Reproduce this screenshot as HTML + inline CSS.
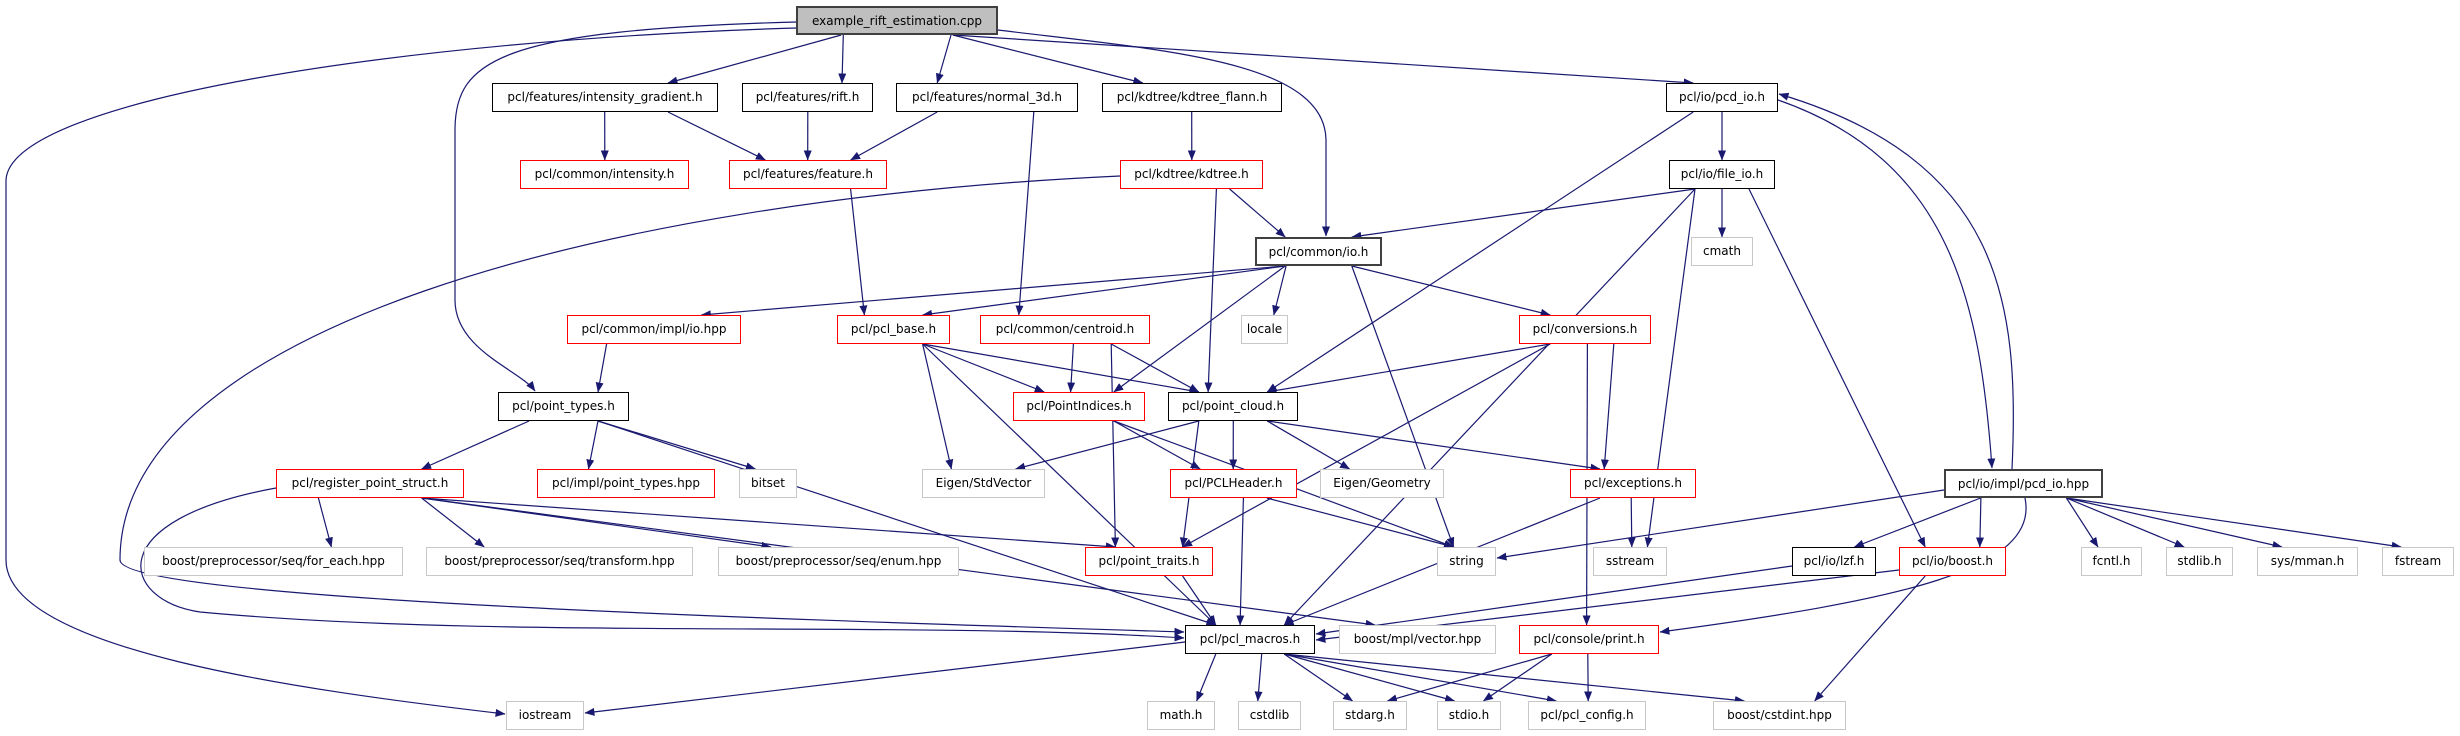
<!DOCTYPE html>
<html><head><meta charset="utf-8">
<style>
html,body{margin:0;padding:0;background:#fff;}
#c{position:relative;width:2460px;height:736px;overflow:hidden;background:#fff;}
.n{position:absolute;box-sizing:border-box;height:29px;line-height:27px;text-align:center;font-family:"DejaVu Sans","Liberation Sans",sans-serif;font-size:12px;color:#000;white-space:nowrap;background:#fff;z-index:2;}
.b{border:1.5px solid #000;}
.k{border:2px solid #404040;}
.r{border:1.5px solid #ff0000;}
.g{border:1.5px solid #c8c8c8;}
.m{border:2px solid #404040;background:#bfbfbf;}
svg{position:absolute;left:0;top:0;z-index:1;}
</style></head><body>
<div id="c">
<svg id="s" width="2460" height="736"><defs><marker id="a" markerWidth="10" markerHeight="8" refX="9.5" refY="4" orient="auto" markerUnits="userSpaceOnUse"><path d="M0,0 L10,4 L0,8 z" fill="#191970"/></marker></defs></svg>

<div class="n m" id="main" style="left:796px;top:6px;width:202px;">example_rift_estimation.cpp</div>

<div class="n b" id="ig" style="left:492px;top:83px;width:226px;">pcl/features/intensity_gradient.h</div>
<div class="n b" id="rift" style="left:742px;top:83px;width:131px;">pcl/features/rift.h</div>
<div class="n b" id="n3d" style="left:896px;top:83px;width:182px;">pcl/features/normal_3d.h</div>
<div class="n b" id="kdf" style="left:1102px;top:83px;width:180px;">pcl/kdtree/kdtree_flann.h</div>
<div class="n b" id="pcdh" style="left:1666px;top:83px;width:112px;">pcl/io/pcd_io.h</div>

<div class="n r" id="cint" style="left:520px;top:160px;width:169px;">pcl/common/intensity.h</div>
<div class="n r" id="feat" style="left:729px;top:160px;width:158px;">pcl/features/feature.h</div>
<div class="n r" id="kdt" style="left:1120px;top:160px;width:143px;">pcl/kdtree/kdtree.h</div>
<div class="n b" id="fio" style="left:1669px;top:160px;width:106px;">pcl/io/file_io.h</div>

<div class="n k" id="cio" style="left:1255px;top:237px;width:127px;">pcl/common/io.h</div>
<div class="n g" id="cmath" style="left:1691px;top:237px;width:62px;">cmath</div>

<div class="n r" id="iohpp" style="left:567px;top:315px;width:174px;">pcl/common/impl/io.hpp</div>
<div class="n r" id="base" style="left:837px;top:315px;width:113px;">pcl/pcl_base.h</div>
<div class="n r" id="cent" style="left:980px;top:315px;width:170px;">pcl/common/centroid.h</div>
<div class="n g" id="locale" style="left:1241px;top:315px;width:47px;">locale</div>
<div class="n r" id="conv" style="left:1519px;top:315px;width:132px;">pcl/conversions.h</div>

<div class="n b" id="pt" style="left:498px;top:392px;width:131px;">pcl/point_types.h</div>
<div class="n r" id="pind" style="left:1013px;top:392px;width:132px;">pcl/PointIndices.h</div>
<div class="n b" id="pc" style="left:1168px;top:392px;width:130px;">pcl/point_cloud.h</div>

<div class="n r" id="rps" style="left:276px;top:469px;width:188px;">pcl/register_point_struct.h</div>
<div class="n r" id="ipt" style="left:537px;top:469px;width:178px;">pcl/impl/point_types.hpp</div>
<div class="n g" id="bitset" style="left:739px;top:469px;width:58px;">bitset</div>
<div class="n g" id="sv" style="left:922px;top:469px;width:123px;">Eigen/StdVector</div>
<div class="n r" id="hdr" style="left:1170px;top:469px;width:127px;">pcl/PCLHeader.h</div>
<div class="n g" id="geo" style="left:1320px;top:469px;width:124px;">Eigen/Geometry</div>
<div class="n r" id="exc" style="left:1570px;top:469px;width:126px;">pcl/exceptions.h</div>
<div class="n k" id="pcdhpp" style="left:1944px;top:469px;width:159px;">pcl/io/impl/pcd_io.hpp</div>

<div class="n g" id="fe" style="left:144px;top:547px;width:259px;">boost/preprocessor/seq/for_each.hpp</div>
<div class="n g" id="tr" style="left:426px;top:547px;width:267px;">boost/preprocessor/seq/transform.hpp</div>
<div class="n g" id="en" style="left:718px;top:547px;width:241px;">boost/preprocessor/seq/enum.hpp</div>
<div class="n r" id="ptr" style="left:1085px;top:547px;width:128px;">pcl/point_traits.h</div>
<div class="n g" id="str" style="left:1437px;top:547px;width:59px;">string</div>
<div class="n g" id="sst" style="left:1593px;top:547px;width:74px;">sstream</div>
<div class="n b" id="lzf" style="left:1792px;top:547px;width:84px;">pcl/io/lzf.h</div>
<div class="n r" id="iob" style="left:1899px;top:547px;width:107px;">pcl/io/boost.h</div>
<div class="n g" id="fcntl" style="left:2081px;top:547px;width:61px;">fcntl.h</div>
<div class="n g" id="stdlib" style="left:2166px;top:547px;width:67px;">stdlib.h</div>
<div class="n g" id="mman" style="left:2257px;top:547px;width:101px;">sys/mman.h</div>
<div class="n g" id="fst" style="left:2382px;top:547px;width:72px;">fstream</div>

<div class="n b" id="mac" style="left:1185px;top:625px;width:130px;">pcl/pcl_macros.h</div>
<div class="n g" id="mpl" style="left:1339px;top:625px;width:157px;">boost/mpl/vector.hpp</div>
<div class="n r" id="prn" style="left:1519px;top:625px;width:140px;">pcl/console/print.h</div>

<div class="n g" id="ios" style="left:506px;top:701px;width:78px;">iostream</div>
<div class="n g" id="math" style="left:1147px;top:701px;width:68px;">math.h</div>
<div class="n g" id="cstdlib" style="left:1238px;top:701px;width:63px;">cstdlib</div>
<div class="n g" id="starg" style="left:1333px;top:701px;width:74px;">stdarg.h</div>
<div class="n g" id="stdio" style="left:1437px;top:701px;width:64px;">stdio.h</div>
<div class="n g" id="cfg" style="left:1528px;top:701px;width:118px;">pcl/pcl_config.h</div>
<div class="n g" id="cint2" style="left:1713px;top:701px;width:133px;">boost/cstdint.hpp</div>
</div>
<script>
(function(){
var s=document.getElementById('s');
function B(id){var e=document.getElementById(id);var l=e.offsetLeft,t=e.offsetTop;return {x1:l,x2:l+e.offsetWidth,y1:t,y2:t+e.offsetHeight,cx:l+e.offsetWidth/2,cy:t+e.offsetHeight/2};}
function P(d){var p=document.createElementNS('http://www.w3.org/2000/svg','path');p.setAttribute('d',d);p.setAttribute('fill','none');p.setAttribute('stroke','#191970');p.setAttribute('stroke-width','1.2');p.setAttribute('marker-end','url(#a)');s.appendChild(p);}
function cl(v,a,b){return Math.max(a,Math.min(b,v));}
function E(a,b){var A=B(a),T=B(b);
 var sx=cl(T.cx,A.x1+8,A.x2-8), tx=cl(A.cx,T.x1+8,T.x2-8);
 sx=A.cx+(sx-A.cx)*0.6; tx=T.cx+(tx-T.cx)*0.6;
 var sy=A.y2,ty=T.y1;
 P('M'+sx+','+sy+' L'+tx+','+ty);}
function C(d){P(d);}
var es=[['main','ig'],['main','rift'],['main','n3d'],['main','kdf'],['main','pcdh'],
['ig','cint'],['ig','feat'],['rift','feat'],['n3d','feat'],['n3d','cent'],['kdf','kdt'],
['kdt','cio'],['kdt','pc'],['feat','base'],['pcdh','fio'],['pcdh','pc'],
['fio','cio'],['fio','cmath'],['fio','sst'],['fio','mac'],['fio','iob'],
['cio','iohpp'],['cio','base'],['cio','locale'],['cio','pind'],['cio','str'],['cio','conv'],
['iohpp','pt'],['base','pind'],['base','pc'],['base','sv'],['base','mac'],
['cent','pind'],['cent','pc'],['cent','ptr'],
['conv','pc'],['conv','exc'],['conv','ptr'],['conv','prn'],
['pt','rps'],['pt','ipt'],['pt','bitset'],['pt','mac'],['pind','hdr'],['pind','str'],
['pc','sv'],['pc','hdr'],['pc','geo'],['pc','exc'],['pc','ptr'],
['rps','fe'],['rps','tr'],['rps','en'],['rps','ptr'],['rps','mpl'],
['hdr','mac'],['hdr','str'],['exc','sst'],['exc','mac'],
['pcdhpp','lzf'],['pcdhpp','iob'],['pcdhpp','fcntl'],['pcdhpp','stdlib'],['pcdhpp','mman'],['pcdhpp','fst'],
['iob','cint2'],['ptr','mac'],
['mac','math'],['mac','cstdlib'],['mac','starg'],['mac','stdio'],['mac','cfg'],['mac','cint2'],
['prn','starg'],['prn','stdio'],['prn','cfg']];
for(var i=0;i<es.length;i++)E(es[i][0],es[i][1]);
C('M796,28 C400,40 10,100 6,180 L6,560 C6,650 300,690 505,714');
C('M796,22 C500,30 455,60 455,130 L455,300 C455,350 520,370 535,391');
C('M998,30 C1160,50 1325,60 1326,140 L1326,236');
C('M1120,176 C600,200 120,330 120,560 C120,600 800,620 1184,632');
C('M276,488 C100,520 120,600 200,612 C500,640 900,620 1184,638');
C('M1944,490 L1497,558');
C('M1778,100 C1950,160 1980,300 1992,468');
C('M2012,469 C2020,300 2000,160 1779,94');
C('M2025,498 C2040,570 1900,600 1660,632');
C('M1792,566 L1316,634');
C('M1899,570 L1316,640');
C('M1185,642 L585,713');
})();
</script>
</body></html>
